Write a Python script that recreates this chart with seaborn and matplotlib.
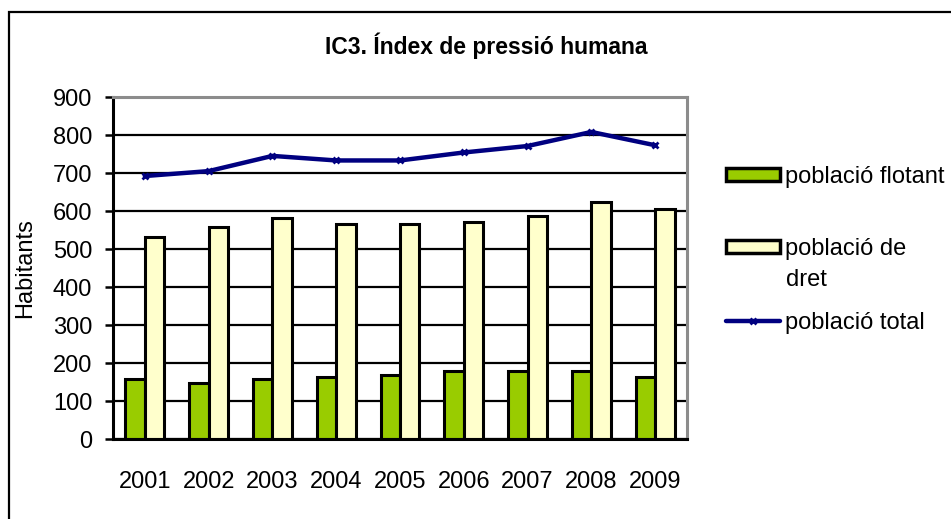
import pandas as pd
import matplotlib
matplotlib.use("Agg")
import matplotlib.pyplot as plt
from matplotlib.patches import Patch, Rectangle
from matplotlib.lines import Line2D
import seaborn as sns

# values
years = ["2001", "2002", "2003", "2004", "2005", "2006", "2007", "2008", "2009"]
flotant = [158, 148, 158, 163, 168, 179, 179, 179, 163]
dret = [532, 558, 582, 567, 567, 572, 587, 624, 604]
total = [692, 705, 745, 733, 733, 754, 771, 808, 773]

series_names = ["població flotant", "població de dret", "població total"]
colors = {"població flotant": "#99CC00", "població de dret": "#FFFFCC"}
line_color = "#000080"

sns.set_theme(style="white")
plt.rcParams["font.family"] = ["Liberation Sans", "DejaVu Sans"]
for key in ["text.color", "axes.labelcolor", "xtick.color", "ytick.color"]:
    plt.rcParams[key] = "black"

df = pd.DataFrame({
    "any": years * 2,
    "habitants": flotant + dret,
    "serie": [series_names[0]] * len(years) + [series_names[1]] * len(years),
})

W, H = 951, 519
fig = plt.figure(figsize=(W / 100, H / 100), dpi=100)
ax = fig.add_axes([113 / W, 1 - 439 / H, (687 - 113) / W, (439 - 97) / H])

sns.barplot(data=df, x="any", y="habitants", hue="serie",
            hue_order=series_names[:2], palette=colors, saturation=1,
            width=0.61, edgecolor="black", linewidth=2.2, legend=False,
            ax=ax, zorder=2)
sns.pointplot(x=years, y=total, color=line_color, marker="x",
              markersize=5, markeredgewidth=2, linewidth=3.2, ax=ax,
              zorder=3)

ax.set_ylim(0, 900)
ax.set_yticks(range(0, 901, 100))
ax.set_xlim(-0.5, len(years) - 0.5)
ax.set_axisbelow(True)
ax.yaxis.grid(True, color="black", linewidth=1.6)
ax.xaxis.grid(False)

for side in ["left", "bottom"]:
    ax.spines[side].set_color("black")
    ax.spines[side].set_linewidth(2.2)
for side in ["top", "right"]:
    ax.spines[side].set_color("#8c8c8c")
    ax.spines[side].set_linewidth(2.2)

ax.tick_params(axis="y", left=True, length=6, width=1.8, color="black",
               pad=9, labelsize=17)
ax.tick_params(axis="x", bottom=False, length=0, pad=23, labelsize=17)
ax.set_xlabel("")
ax.set_ylabel("Habitants", fontsize=17, va="center")
ax.yaxis.set_label_coords((25 - 113) / (687 - 113), 0.5)

fig.text(486 / W, 1 - 46 / H, "IC3. Índex de pressió humana",
         ha="center", va="center", fontsize=16.5, fontweight="bold")

# legend: one box per entry, placed like the original (Excel) legend
handles = [
    Patch(facecolor=colors[series_names[0]], edgecolor="black", linewidth=2.5),
    Patch(facecolor=colors[series_names[1]], edgecolor="black", linewidth=2.5),
    Line2D([], [], color=line_color, linewidth=3.2, marker="x",
           markersize=5, markeredgewidth=2),
]
labels = ["població flotant", "població de", "població total"]
entry_y = [177, 249, 323]
for h, lab, y in zip(handles, labels, entry_y):
    fig.legend([h], [lab], loc="center left",
               bbox_to_anchor=(726 / W, 1 - y / H), frameon=False,
               fontsize=17, handlelength=2.3, handleheight=0.5,
               handletextpad=0.2, borderpad=0, borderaxespad=0)
fig.text(786 / W, 1 - 280 / H, "dret", ha="left", va="center", fontsize=17)

# outer chart border (right/bottom edges fall outside the picture)
fig.patches.append(Rectangle((8.5 / W, -0.1), 1.2, 1.1 - 11.5 / H,
                             transform=fig.transFigure, fill=False,
                             edgecolor="black", linewidth=1.6))

fig.savefig("out.png", dpi=100)
